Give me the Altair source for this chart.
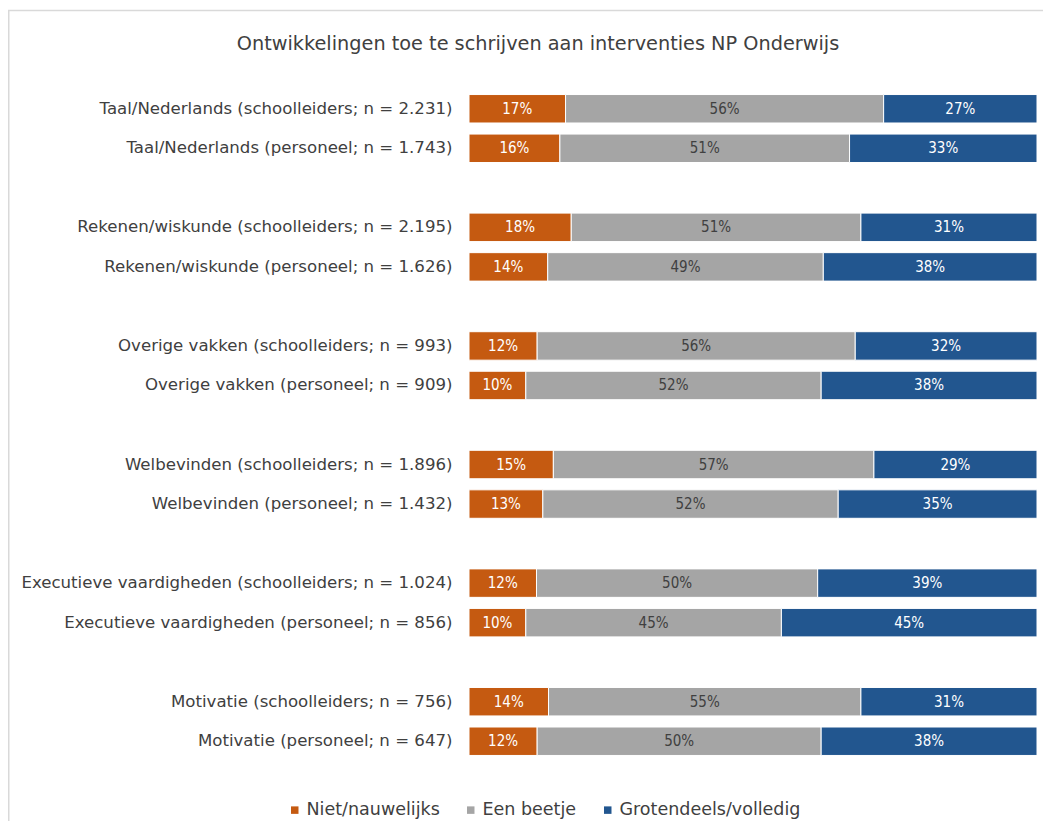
import altair as alt
import pandas as pd

labels = [
    "Taal/Nederlands (schoolleiders; n = 2.231)",
    "Taal/Nederlands (personeel; n = 1.743)",
    "Rekenen/wiskunde (schoolleiders; n = 2.195)",
    "Rekenen/wiskunde (personeel; n = 1.626)",
    "Overige vakken (schoolleiders; n = 993)",
    "Overige vakken (personeel; n = 909)",
    "Welbevinden (schoolleiders; n = 1.896)",
    "Welbevinden (personeel; n = 1.432)",
    "Executieve vaardigheden (schoolleiders; n = 1.024)",
    "Executieve vaardigheden (personeel; n = 856)",
    "Motivatie (schoolleiders; n = 756)",
    "Motivatie (personeel; n = 647)",
]
niet = [17, 16, 18, 14, 12, 10, 15, 13, 12, 10, 14, 12]
beetje = [56, 51, 51, 49, 56, 52, 57, 52, 50, 45, 55, 50]
groot = [27, 33, 31, 38, 32, 38, 29, 35, 39, 45, 31, 38]

cats = ["Niet/nauwelijks", "Een beetje", "Grotendeels/volledig"]
colors = ["#C55A11", "#A5A5A5", "#22568F"]

rows = []
for i, lab in enumerate(labels):
    for k, (c, vals) in enumerate(zip(cats, [niet, beetje, groot])):
        rows.append({"label": lab, "cat": c, "value": vals[i], "order": k})
df = pd.DataFrame(rows)

# y domain with blank gap rows between pairs
ydomain = []
for g in range(6):
    ydomain += [labels[2 * g], labels[2 * g + 1]]
    if g < 5:
        ydomain.append(f"gap{g}")

FONT = "DejaVu Sans"
TXT = "#404040"

base = alt.Chart(df).transform_stack(
    stack="value",
    groupby=["label"],
    as_=["v0", "v1"],
    offset="normalize",
    sort=[alt.SortField("order", "ascending")],
).transform_calculate(
    mid="(datum.v0 + datum.v1) / 2",
    txt="datum.value + '%'",
    tc="datum.cat === 'Een beetje' ? '#404040' : '#FFFFFF'",
)

yenc = alt.Y(
    "label:N",
    scale=alt.Scale(domain=ydomain, paddingInner=0.28, paddingOuter=0.14),
    axis=alt.Axis(
        title=None,
        ticks=False,
        domain=False,
        grid=False,
        labelPadding=17,
        labelFontSize=16.6,
        labelFont=FONT,
        labelColor=TXT,
        labelLimit=600,
        labelExpr="indexof(datum.value, 'gap') === 0 ? '' : datum.value",
    ),
)

bars = base.mark_bar(stroke="white", strokeWidth=1).encode(
    y=yenc,
    x=alt.X("v0:Q", scale=alt.Scale(domain=[0, 1], nice=False), axis=None),
    x2="v1:Q",
    color=alt.Color(
        "cat:N",
        scale=alt.Scale(domain=cats, range=colors),
        legend=alt.Legend(
            title=None,
            orient="none",
            legendX=-183,
            legendY=712,
            direction="horizontal",
            symbolType="square",
            symbolSize=56,
            symbolStrokeWidth=0,
            labelFontSize=17.5,
            labelFont=FONT,
            labelColor=TXT,
            labelOffset=3,
            labelLimit=400,
            columnPadding=22,
        ),
    ),
)

text = base.mark_text(
    font="Liberation Sans Narrow, DejaVu Sans Condensed, sans-serif", fontSize=15
).encode(
    y=alt.Y("label:N"),
    x=alt.X("mid:Q"),
    text="txt:N",
    color=alt.Color("tc:N", scale=None),
)

border = alt.Chart(alt.Data(values=[{"a": 1}])).mark_rect(
    fillOpacity=0, stroke="#D9D9D9", strokeWidth=1.5
).encode(
    x=alt.value(-460.25),
    x2=alt.value(700),
    y=alt.value(-78.5),
    y2=alt.value(900),
)

chart = alt.layer(border, bars, text).properties(
    width=568,
    height=672,
    background="white",
    autosize=alt.AutoSizeParams(type="none"),
    padding={"left": 461, "top": 81, "right": 6, "bottom": 60},
    title=alt.TitleParams(
        "Ontwikkelingen toe te schrijven aan interventies NP Onderwijs",
        fontSize=19.3,
        font=FONT,
        fontWeight="normal",
        color=TXT,
        anchor="middle",
        dx=-215,
        offset=-45,
    ),
).configure_view(stroke="transparent", strokeWidth=0)

chart.save("out.html", embed_options={"renderer": "svg", "actions": False})
